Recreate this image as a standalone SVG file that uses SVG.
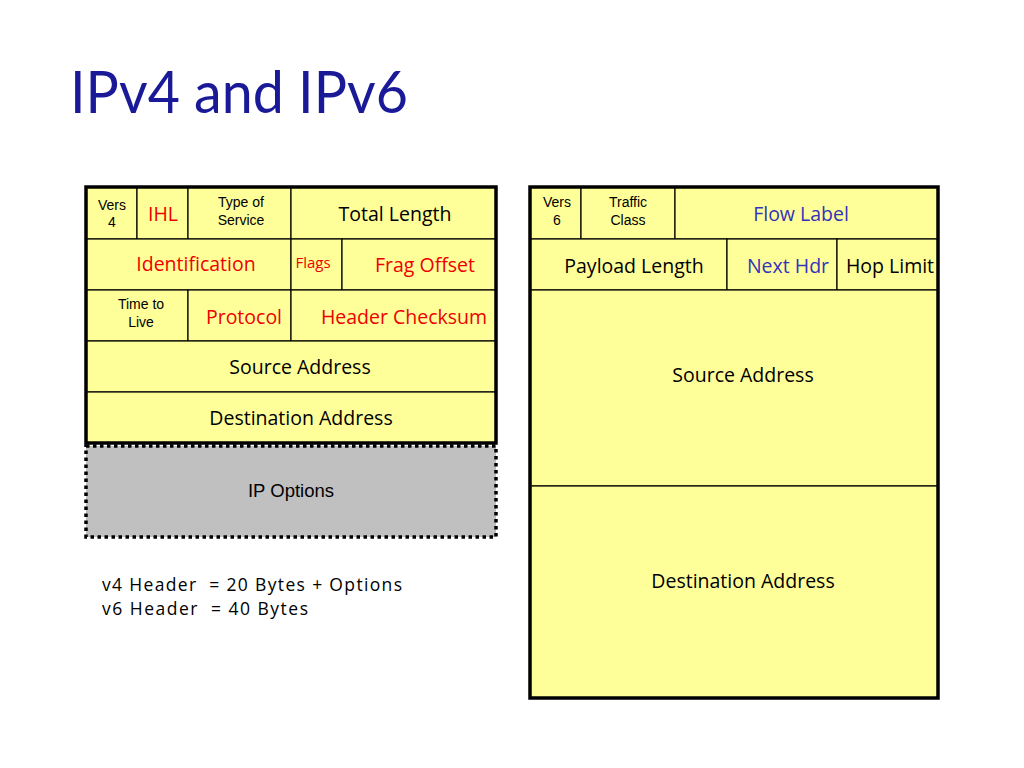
<svg xmlns="http://www.w3.org/2000/svg" width="1024" height="768" viewBox="0 0 1024 768">
<style>
.cell{fill:#ffff99;stroke:#000;stroke-width:1.2}
.outer{fill:none;stroke:#000;stroke-width:3.5}
.c{font-family:"Open Sans","DejaVu Sans",sans-serif;font-size:19.5px;text-anchor:middle;fill:#000}
.s{font-family:"Liberation Sans",Arial,sans-serif;font-size:14px;text-anchor:middle;fill:#000}
.r{fill:#ee0000}
.b{fill:#3333bb}
.n{font-family:"Open Sans","DejaVu Sans",sans-serif;font-size:17.5px;fill:#000}
</style>
<rect width="1024" height="768" fill="#fff"/>
<text x="70" y="113" font-family="Lato,'Open Sans',sans-serif" font-size="58" fill="#1a1a99" textLength="338" lengthAdjust="spacingAndGlyphs">IPv4 and IPv6</text>

<g id="ipv4">
<g id="v4-vers"><rect class="cell" x="86" y="187" width="51" height="52"/><text class="s" x="112" y="210">Vers</text><text class="s" x="112" y="227">4</text></g>
<g id="v4-ihl"><rect class="cell" x="137" y="187" width="51" height="52"/><text class="c r" x="163" y="221">IHL</text></g>
<g id="v4-tos"><rect class="cell" x="188" y="187" width="103" height="52"/><text class="s" x="241" y="207">Type of</text><text class="s" x="241" y="225">Service</text></g>
<g id="v4-totlen"><rect class="cell" x="291" y="187" width="205" height="52"/><text class="c" x="395" y="221">Total Length</text></g>
<g id="v4-ident"><rect class="cell" x="86" y="239" width="205" height="51"/><text class="c r" x="196" y="271">Identification</text></g>
<g id="v4-flags"><rect class="cell" x="291" y="239" width="51" height="51"/><text class="c r" x="313" y="268" style="font-size:15px">Flags</text></g>
<g id="v4-frag"><rect class="cell" x="342" y="239" width="154" height="51"/><text class="c r" x="425" y="272">Frag Offset</text></g>
<g id="v4-ttl"><rect class="cell" x="86" y="290" width="102" height="51"/><text class="s" x="141" y="309">Time to</text><text class="s" x="141" y="327">Live</text></g>
<g id="v4-proto"><rect class="cell" x="188" y="290" width="103" height="51"/><text class="c r" x="244" y="324">Protocol</text></g>
<g id="v4-cksum"><rect class="cell" x="291" y="290" width="205" height="51"/><text class="c r" x="404" y="324">Header Checksum</text></g>
<g id="v4-src"><rect class="cell" x="86" y="341" width="410" height="51"/><text class="c" x="300" y="374">Source Address</text></g>
<g id="v4-dst"><rect class="cell" x="86" y="392" width="410" height="51"/><text class="c" x="301" y="425">Destination Address</text></g>
<rect class="outer" x="86" y="187" width="410" height="256"/>
</g>

<g id="v4-options">
<rect x="86" y="446" width="410" height="91" fill="#c0c0c0" stroke="#000" stroke-width="3.5" stroke-dasharray="3.5 3.5"/>
<text class="s" x="291" y="497" style="font-size:18.5px">IP Options</text>
</g>

<g id="ipv6">
<g id="v6-vers"><rect class="cell" x="530" y="187" width="51" height="52"/><text class="s" x="557" y="207">Vers</text><text class="s" x="557" y="225">6</text></g>
<g id="v6-tc"><rect class="cell" x="581" y="187" width="94" height="52"/><text class="s" x="628" y="207">Traffic</text><text class="s" x="628" y="225">Class</text></g>
<g id="v6-flow"><rect class="cell" x="675" y="187" width="263" height="52"/><text class="c b" x="801" y="221">Flow Label</text></g>
<g id="v6-plen"><rect class="cell" x="530" y="239" width="197" height="51"/><text class="c" x="634" y="273">Payload Length</text></g>
<g id="v6-nh"><rect class="cell" x="727" y="239" width="110" height="51"/><text class="c b" x="788" y="273">Next Hdr</text></g>
<g id="v6-hop"><rect class="cell" x="837" y="239" width="101" height="51"/><text class="c" x="890" y="273">Hop Limit</text></g>
<g id="v6-src"><rect class="cell" x="530" y="290" width="408" height="196"/><text class="c" x="743" y="382">Source Address</text></g>
<g id="v6-dst"><rect class="cell" x="530" y="486" width="408" height="212"/><text class="c" x="743" y="588">Destination Address</text></g>
<rect class="outer" x="530" y="187" width="408" height="511"/>
</g>

<g id="note">
<text class="n" x="102" y="591" xml:space="preserve" textLength="300" lengthAdjust="spacing">v4 Header  = 20 Bytes + Options</text>
<text class="n" x="102" y="615" xml:space="preserve" textLength="206" lengthAdjust="spacing">v6 Header  = 40 Bytes</text>
</g>
<g id="connectors"/>
</svg>
